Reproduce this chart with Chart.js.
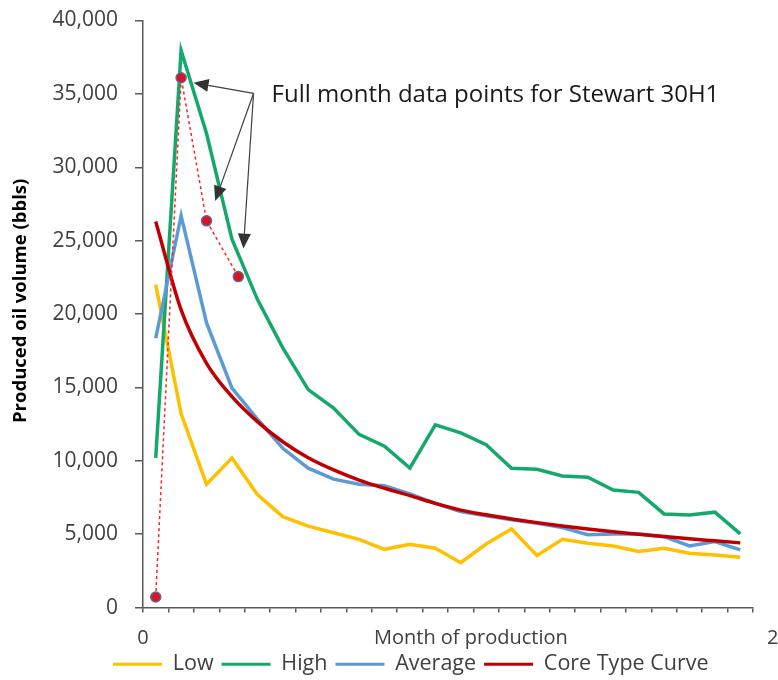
<!DOCTYPE html>
<html>
<head>
<meta charset="utf-8">
<script src="https://cdn.jsdelivr.net/npm/chart.js@4.4.1/dist/chart.umd.min.js"></script>
<style>
  html, body { margin: 0; padding: 0; background: #ffffff; }
  #wrap { width: 778px; height: 680px; position: relative; }
</style>
</head>
<body>
<div id="wrap"><canvas id="chart" width="778" height="680"></canvas></div>
<script>
// Month positions (mid-month) for each monthly volume
const months = [0.5, 1.5, 2.5, 3.5, 4.5, 5.5, 6.5, 7.5, 8.5, 9.5, 10.5, 11.5,
                12.5, 13.5, 14.5, 15.5, 16.5, 17.5, 18.5, 19.5, 20.5, 21.5, 22.5, 23.5];

// Produced oil volume (bbls) per month
const lowVolumes = [22000, 13200, 8400, 10200, 7700, 6200, 5550, 5100, 4650, 3970, 4320, 4050,
                    3060, 4330, 5350, 3550, 4650, 4380, 4200, 3820, 4040, 3700, 3580, 3430];
const highVolumes = [10200, 37950, 32300, 25100, 21000, 17700, 14850, 13600, 11800, 11000, 9500, 12450,
                     11900, 11100, 9500, 9420, 8970, 8880, 8010, 7850, 6380, 6310, 6500, 5020];
const averageVolumes = [18350, 26700, 19400, 14950, 12850, 10850, 9500, 8750, 8400, 8300, 7750, 7100,
                        6550, 6250, 5980, 5740, 5450, 4960, 5020, 5020, 4830, 4200, 4500, 3930];
const coreTypeCurve = [26300, 20280, 16640, 14370, 12670, 11300, 10210, 9380, 8690, 8130, 7630, 7100,
                       6640, 6320, 6040, 5790, 5560, 5350, 5160, 5000, 4840, 4690, 4550, 4410];

// Stewart 30H1 full-month data points
const stewartMonths = [0.5, 1.5, 2.5, 3.75];
const stewartVolumes = [720, 36100, 26350, 22550];

const seriesNames = ['Low', 'High', 'Average', 'Core Type Curve', 'Stewart 30H1'];
const yTicks = [0, 5000, 10000, 15000, 20000, 25000, 30000, 35000, 40000];
const xTickLabels = { 0: '0', 25: '25' };
const calloutText = 'Full month data points for Stewart 30H1';
const xTitle = 'Month of production';
const yTitle = 'Produced oil volume (bbls)';

const FONT = "'Open Sans', 'Noto Sans', sans-serif";
const AXIS_GREY = '#595959';
const TEXT_GREY = '#404040';

const toPoints = (xs, ys) => xs.map((x, i) => ({ x: x, y: ys[i] }));

// Callout: label anchor and arrow tips in data units (month, bbls)
const calloutOrigin = { x: 4.35, y: 35040 };
const calloutTips = [
  { x: 1.99, y: 35760 },
  { x: 2.84, y: 27700 },
  { x: 3.95, y: 24460 }
];

function drawArrow(ctx, x0, y0, x1, y1) {
  const ang = Math.atan2(y1 - y0, x1 - x0);
  const headLen = 15, headHalf = 6.5;
  const bx = x1 - headLen * Math.cos(ang), by = y1 - headLen * Math.sin(ang);
  ctx.beginPath();
  ctx.moveTo(x0, y0);
  ctx.lineTo(bx, by);
  ctx.stroke();
  ctx.beginPath();
  ctx.moveTo(x1, y1);
  ctx.lineTo(bx + headHalf * Math.sin(ang), by - headHalf * Math.cos(ang));
  ctx.lineTo(bx - headHalf * Math.sin(ang), by + headHalf * Math.cos(ang));
  ctx.closePath();
  ctx.fill();
}

const overlayPlugin = {
  id: 'overlay',
  beforeDraw(chart) {
    // legend row starts under the y-axis tick labels
    if (chart.legend) {
      chart.legend.left = 105;
      chart.legend.right = 778;
    }
  },
  afterDraw(chart) {
    const { ctx, scales: { x, y }, chartArea } = chart;
    ctx.save();
    // callout arrows
    ctx.strokeStyle = '#404040';
    ctx.fillStyle = '#333333';
    ctx.lineWidth = 1.2;
    const ox = x.getPixelForValue(calloutOrigin.x), oy = y.getPixelForValue(calloutOrigin.y);
    calloutTips.forEach(t => drawArrow(ctx, ox, oy, x.getPixelForValue(t.x), y.getPixelForValue(t.y)));
    // callout text
    ctx.fillStyle = '#1a1a1a';
    ctx.font = "24px " + FONT;
    ctx.textAlign = 'left';
    ctx.textBaseline = 'middle';
    ctx.fillText(calloutText, ox + 18, oy + 2);
    // month labels at the axis ends
    ctx.fillStyle = TEXT_GREY;
    ctx.font = "20px " + FONT;
    ctx.textAlign = 'center';
    const labelY = chartArea.bottom + 30.5;
    Object.keys(xTickLabels).forEach(k => {
      ctx.fillText(xTickLabels[k], x.getPixelForValue(Number(k)), labelY);
    });
    // x-axis title
    ctx.fillText(xTitle, x.getPixelForValue(12.9), labelY);
    // y-axis title
    ctx.fillStyle = '#000000';
    ctx.font = "bold 18.5px " + FONT;
    ctx.translate(21, y.getPixelForValue(20900));
    ctx.rotate(-Math.PI / 2);
    ctx.fillText(yTitle, 0, 0);
    ctx.restore();
  }
};

const lineDs = (label, data, color, order) => ({
  label: label,
  data: toPoints(months, data),
  borderColor: color,
  backgroundColor: color,
  borderWidth: 3.5,
  pointRadius: 0,
  tension: 0,
  order: order
});

const datasets = [
  lineDs(seriesNames[0], lowVolumes, '#FFC000', 4),
  lineDs(seriesNames[1], highVolumes, '#15A86B', 3),
  lineDs(seriesNames[2], averageVolumes, '#5B9BD5', 2),
  Object.assign(lineDs(seriesNames[3], coreTypeCurve, '#C00000', 1), { cubicInterpolationMode: 'monotone' }),
  {
    label: seriesNames[4],
    data: toPoints(stewartMonths, stewartVolumes),
    borderColor: '#FF2020',
    borderWidth: 1.5,
    borderDash: [3, 3],
    pointRadius: 5,
    pointBackgroundColor: '#E3101C',
    pointBorderColor: '#56699E',
    pointBorderWidth: 1.5,
    tension: 0,
    order: 0
  }
];

new Chart(document.getElementById('chart'), {
  type: 'line',
  data: { datasets: datasets },
  plugins: [overlayPlugin],
  options: {
    responsive: false,
    animation: false,
    events: [],
    layout: { padding: { left: 0, right: 25, top: 20.5, bottom: -5 } },
    plugins: {
      tooltip: { enabled: false },
      legend: {
        position: 'bottom',
        align: 'start',
        labels: {
          font: { family: FONT, size: 21.5 },
          color: TEXT_GREY,
          boxWidth: 49,
          boxHeight: 3,
          padding: 8,
          generateLabels(chart) {
            return Chart.defaults.plugins.legend.labels.generateLabels(chart)
              .filter(l => l.datasetIndex < 4)
              .map(l => Object.assign(l, { fillStyle: l.strokeStyle, lineWidth: 0 }));
          },
          sort: (a, b) => a.datasetIndex - b.datasetIndex
        }
      }
    },
    scales: {
      x: {
        type: 'linear',
        min: 0,
        max: 24,
        afterBuildTicks(scale) {
          const t = [];
          for (let m = 0; m <= 24; m++) t.push({ value: m });
          scale.ticks = t;
        },
        ticks: {
          autoSkip: false,
          maxRotation: 0,
          display: true,
          font: { family: FONT, size: 20 },
          callback: () => ''
        },
        grid: { drawOnChartArea: false, drawTicks: true, tickLength: 5, color: AXIS_GREY, lineWidth: 1.5 },
        border: { display: true, color: AXIS_GREY, width: 1.5 },
        afterFit(scale) { scale.height = 37.9; }
      },
      y: {
        min: 0,
        max: 40000,
        afterBuildTicks(scale) { scale.ticks = yTicks.map(v => ({ value: v })); },
        ticks: {
          padding: 17,
          font: { family: FONT, size: 21 },
          color: TEXT_GREY,
          callback: v => v.toLocaleString('en-US')
        },
        grid: { drawOnChartArea: false, drawTicks: true, tickLength: 8, color: AXIS_GREY, lineWidth: 1.5 },
        border: { display: true, color: AXIS_GREY, width: 1.5 },
        title: { display: false },
        afterFit(scale) {
          scale.width = 143;
          scale.paddingTop = 0;
          scale.paddingBottom = 0;
        }
      }
    }
  }
});
</script>
</body>
</html>
